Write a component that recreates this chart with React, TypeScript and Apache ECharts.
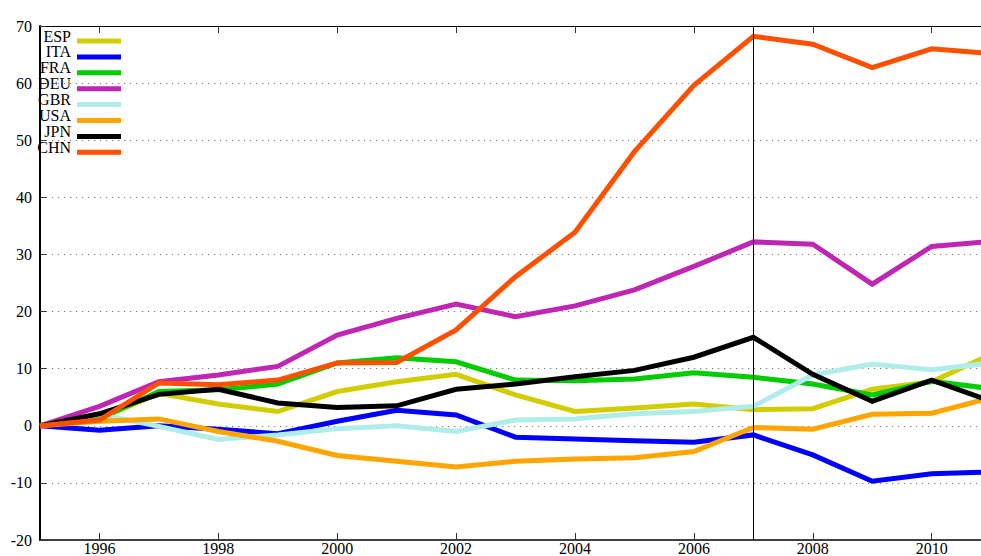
import React, { useEffect, useRef } from "react";
import * as echarts from "echarts";

const years = [1995, 1996, 1997, 1998, 1999, 2000, 2001, 2002, 2003, 2004, 2005, 2006, 2007, 2008, 2009, 2010, 2011];
const xTicks = [1996, 1998, 2000, 2002, 2004, 2006, 2008, 2010];

const seriesNames = ["ESP", "ITA", "FRA", "DEU", "GBR", "USA", "JPN", "CHN"];
const seriesColors = ["#d2cd00", "#0000ff", "#00cc00", "#c026b4", "#b0ecea", "#ffa500", "#000000", "#ff5000"];

const ESP = [0, 1.2, 5.7, 3.8, 2.5, 6.0, 7.7, 9.0, 5.4, 2.5, 3.1, 3.8, 2.8, 3.0, 6.4, 7.7, 12.5];
const ITA = [0, -0.8, 0.0, -0.6, -1.4, 0.8, 2.7, 1.9, -2.0, -2.3, -2.6, -2.9, -1.6, -5.1, -9.7, -8.4, -8.1];
const FRA = [0, 1.2, 6.0, 6.3, 7.3, 11.0, 11.9, 11.2, 8.0, 7.9, 8.2, 9.3, 8.5, 7.3, 5.4, 7.8, 6.5];
const DEU = [0, 3.4, 7.7, 8.9, 10.4, 15.9, 18.8, 21.3, 19.1, 21.0, 23.8, 27.9, 32.2, 31.8, 24.8, 31.4, 32.3];
const GBR = [0, 2.0, -0.1, -2.4, -1.6, -0.5, 0.0, -1.0, 1.0, 1.2, 2.1, 2.5, 3.4, 8.9, 10.8, 9.8, 11.0];
const USA = [0, 0.8, 1.2, -1.0, -2.7, -5.2, -6.2, -7.2, -6.2, -5.8, -5.6, -4.5, -0.3, -0.6, 2.0, 2.2, 4.9];
const JPN = [0, 2.1, 5.5, 6.4, 4.0, 3.2, 3.5, 6.4, 7.3, 8.6, 9.7, 12.0, 15.5, 9.0, 4.3, 8.0, 4.3];
const CHN = [0, 1.0, 7.5, 7.2, 8.0, 11.0, 11.1, 16.8, 26.1, 33.9, 48.0, 59.6, 68.2, 66.8, 62.7, 66.0, 65.2];

const seriesValues = [ESP, ITA, FRA, DEU, GBR, USA, JPN, CHN];
const markerYear = 2007;

const FONT = "'Liberation Serif', 'DejaVu Serif', serif";

export default function App() {
  const ref = useRef<HTMLDivElement>(null);

  useEffect(() => {
    if (!ref.current) return;
    const chart = echarts.init(ref.current, null, { renderer: "svg" });

    const series: any[] = seriesNames.map((name, i) => {
      const s: any = {
        name,
        type: "line",
        data: years.map((y, j) => [y, seriesValues[i][j]]),
        symbol: "none",
        clip: true,
        lineStyle: { color: seriesColors[i], width: 5, join: "miter" },
        itemStyle: { color: seriesColors[i] },
        z: 3,
      };
      if (i === 0) {
        s.markLine = {
          silent: true,
          symbol: "none",
          label: { show: false },
          lineStyle: { color: "#000", width: 1, type: "solid" },
          data: [{ xAxis: markerYear }],
        };
      }
      return s;
    });

    const legendGraphics: any[] = [];
    seriesNames.forEach((name, i) => {
      const cy = 41 + 15.9 * i;
      legendGraphics.push({
        type: "text",
        x: 71,
        y: cy - 5,
        style: {
          text: name,
          fill: "#000",
          font: `16px ${FONT}`,
          textAlign: "right",
          textVerticalAlign: "middle",
        },
        z: 10,
      });
      legendGraphics.push({
        type: "rect",
        shape: { x: 77, y: cy - 2.5, width: 44, height: 5 },
        style: { fill: seriesColors[i] },
        z: 10,
      });
    });

    const xCommon = {
      type: "value",
      min: 1995,
      max: 2010.83,
      splitLine: { show: false },
    };

    chart.setOption({
      animation: false,
      backgroundColor: "#fff",
      grid: { left: 40, right: 0, top: 26, bottom: 16, containLabel: false, outerBoundsMode: "none" },
      xAxis: [
        {
          ...xCommon,
          position: "bottom",
          axisLine: { show: true, onZero: false, lineStyle: { color: "#000", width: 1.5 } },
          axisTick: { show: true, inside: true, length: 7, customValues: xTicks, lineStyle: { color: "#333", width: 1 } },
          axisLabel: {
            show: true,
            customValues: xTicks,
            margin: 1,
            lineHeight: 14,
            fontSize: 16,
            fontFamily: FONT,
            color: "#000",
            formatter: (v: number) => String(v),
          },
        },
        {
          ...xCommon,
          position: "top",
          axisLine: { show: true, onZero: false, lineStyle: { color: "#000", width: 1 } },
          axisTick: { show: true, inside: true, length: 7, customValues: xTicks, lineStyle: { color: "#333", width: 1 } },
          axisLabel: { show: false },
        },
      ],
      yAxis: {
        type: "value",
        min: -20,
        max: 70,
        interval: 10,
        axisLine: { show: true, onZero: false, lineStyle: { color: "#000", width: 2 } },
        axisTick: { show: true, inside: true, length: 6, lineStyle: { color: "#333", width: 1 } },
        axisLabel: {
          show: true,
          margin: 8,
          fontSize: 16,
          fontFamily: FONT,
          color: "#000",
          padding: [0, 0, 10, 0],
          formatter: (v: number) => String(v),
        },
        splitLine: {
          show: true,
          showMinLine: false,
          showMaxLine: false,
          lineStyle: { color: "#777", width: 1.2, type: [1.2, 4.8] },
        },
      },
      series,
      graphic: legendGraphics,
    });

    return () => {
      chart.dispose();
    };
  }, []);

  return (
    <div
      ref={ref}
      style={{ position: "fixed", left: 0, top: 0, width: 981, height: 556, background: "#fff" }}
    />
  );
}
